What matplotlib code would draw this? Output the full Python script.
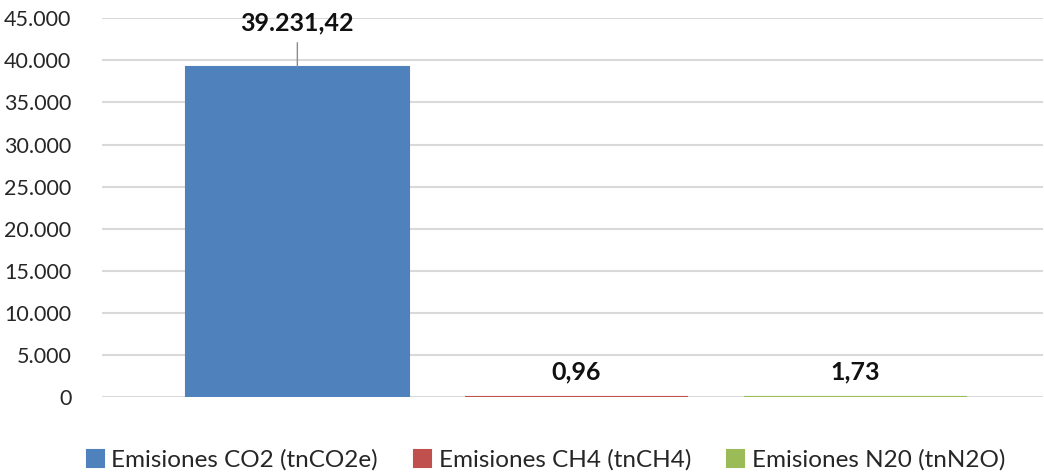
import matplotlib.pyplot as plt
from matplotlib.ticker import FuncFormatter

plt.rcParams['font.family'] = ['Lato', 'DejaVu Sans']

series = ['Emisiones CO2 (tnCO2e)', 'Emisiones CH4 (tnCH4)', 'Emisiones N20 (tnN2O)']
values = [39231.42, 0.96, 1.73]
labels = ['39.231,42', '0,96', '1,73']
colors = ['#4F81BD', '#C0504D', '#9BBB59']
yticks = [0, 5000, 10000, 15000, 20000, 25000, 30000, 35000, 40000, 45000]

fig = plt.figure(figsize=(10.44, 4.76), dpi=100)
ax = fig.add_axes([102/1044, (476-397)/476, (1043-102)/1044, (397-18.3)/476])

bars = []
for i, (v, c, s) in enumerate(zip(values, colors, series)):
    b = ax.bar(i, v, width=0.8, color=c, edgecolor=c, linewidth=1.5, label=s, zorder=3)
    bars.append(b)

ax.set_xlim(-0.70, 2.672)
ax.set_ylim(0, 45000)
ax.set_yticks(yticks)
ax.yaxis.set_major_formatter(FuncFormatter(lambda v, p: f'{int(v):,}'.replace(',', '.')))
ax.set_xticks([])
ax.grid(axis='y', color='#d9d9d9', linewidth=1.5, zorder=0)
ax.set_axisbelow(True)
for sp in ax.spines.values():
    sp.set_visible(False)
ax.tick_params(axis='y', length=0, pad=22, labelsize=15.5, labelcolor='#262626')

# data labels
ax.annotate(labels[0], xy=(0, values[0]), xytext=(0, 44), textcoords='offset pixels',
            ha='center', va='center', fontsize=18, fontweight='bold', color='#111111',
            arrowprops=dict(arrowstyle='-', color='#8c8c8c', lw=1, shrinkA=4, shrinkB=0))
for i in (1, 2):
    ax.annotate(labels[i], xy=(i, values[i]), xytext=(0, 25), textcoords='offset pixels',
                ha='center', va='center', fontsize=18, fontweight='bold', color='#111111')

fig.legend(handles=[b[0] for b in bars], labels=series, loc='center',
           bbox_to_anchor=(546/1044, 16/476), ncol=3, frameon=False, fontsize=17.5,
           handlelength=0.7, handleheight=0.7, handletextpad=0.3, columnspacing=1.5,
           labelcolor='#262626')

fig.savefig('out.png', dpi=100)
